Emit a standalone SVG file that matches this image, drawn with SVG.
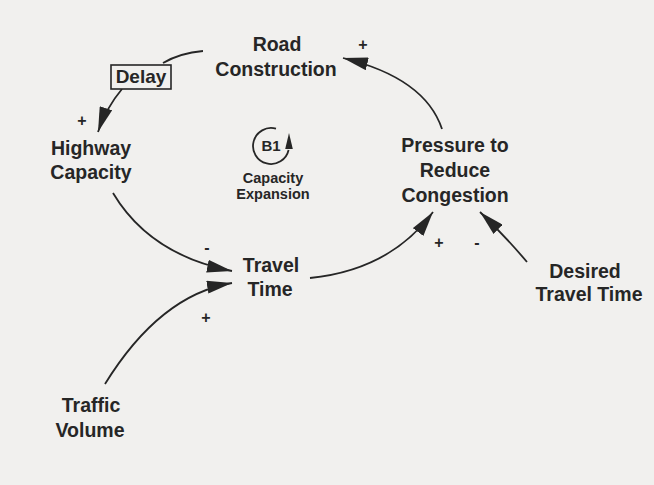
<svg xmlns="http://www.w3.org/2000/svg" width="654" height="485" viewBox="0 0 654 485">
<defs>
<marker id="ah" viewBox="0 0 25 13" refX="25" refY="6.5" markerWidth="25" markerHeight="13" markerUnits="userSpaceOnUse" orient="auto">
<path d="M0,0 L25,6.5 L0,13 Z" fill="#262626"/>
</marker>
</defs>
<style>
.t{font-family:"Liberation Sans",Arial,sans-serif;font-weight:bold;font-size:19.5px;fill:#262626;text-anchor:middle}
.s{font-family:"Liberation Sans",Arial,sans-serif;font-weight:bold;font-size:14.5px;fill:#262626;text-anchor:middle}
.p{font-family:"Liberation Sans",Arial,sans-serif;font-weight:bold;font-size:16px;fill:#262626;text-anchor:middle}
.c{fill:none;stroke:#262626;stroke-width:1.8}
</style>
<rect width="654" height="485" fill="#f1f0ee"/>

<g id="connectors">
<path class="c" d="M203,51 Q180,53 163,63"/>
<path class="c" d="M122,89 Q106,108 98,132" marker-end="url(#ah)"/>
<path class="c" d="M442,129 Q425,78 343,58" marker-end="url(#ah)"/>
<path class="c" d="M113,193 Q150,255 232,271" marker-end="url(#ah)"/>
<path class="c" d="M105,384 Q160,295 232,283" marker-end="url(#ah)"/>
<path class="c" d="M310,278 Q390,270 433,212" marker-end="url(#ah)"/>
<path class="c" d="M527,262 Q505,236 480,212" marker-end="url(#ah)"/>
</g>

<g id="polarities">
<text class="p" x="363" y="50">+</text>
<text class="p" x="82" y="126">+</text>
<text class="p" x="207" y="253">-</text>
<text class="p" x="206" y="323">+</text>
<text class="p" x="439" y="248">+</text>
<text class="p" x="477" y="248">-</text>
</g>

<g id="delay">
<rect x="111" y="65" width="60" height="24" fill="#f1f0ee" stroke="#262626" stroke-width="1.6"/>
<text class="t" x="141" y="83" style="font-size:19px">Delay</text>
</g>

<g id="road-construction">
<text class="t" x="277" y="51">Road</text>
<text class="t" x="276" y="76">Construction</text>
</g>

<g id="highway-capacity">
<text class="t" x="91" y="155">Highway</text>
<text class="t" x="91" y="179">Capacity</text>
</g>

<g id="loop-b1">
<path class="c" d="M276,128.7 A18,18 0 1 0 288.6,150"/>
<path d="M289,133 L292.8,149 L285.2,149 Z" fill="#262626"/>
<text class="s" x="271" y="151" style="font-size:15px">B1</text>
<text class="s" x="273" y="183">Capacity</text>
<text class="s" x="273" y="199">Expansion</text>
</g>

<g id="pressure">
<text class="t" x="455" y="152">Pressure to</text>
<text class="t" x="455" y="177">Reduce</text>
<text class="t" x="455" y="202">Congestion</text>
</g>

<g id="travel-time">
<text class="t" x="271" y="272">Travel</text>
<text class="t" x="270" y="296">Time</text>
</g>

<g id="desired-travel-time">
<text class="t" x="585" y="278">Desired</text>
<text class="t" x="589" y="301">Travel Time</text>
</g>

<g id="traffic-volume">
<text class="t" x="91" y="412">Traffic</text>
<text class="t" x="90" y="437">Volume</text>
</g>
</svg>
